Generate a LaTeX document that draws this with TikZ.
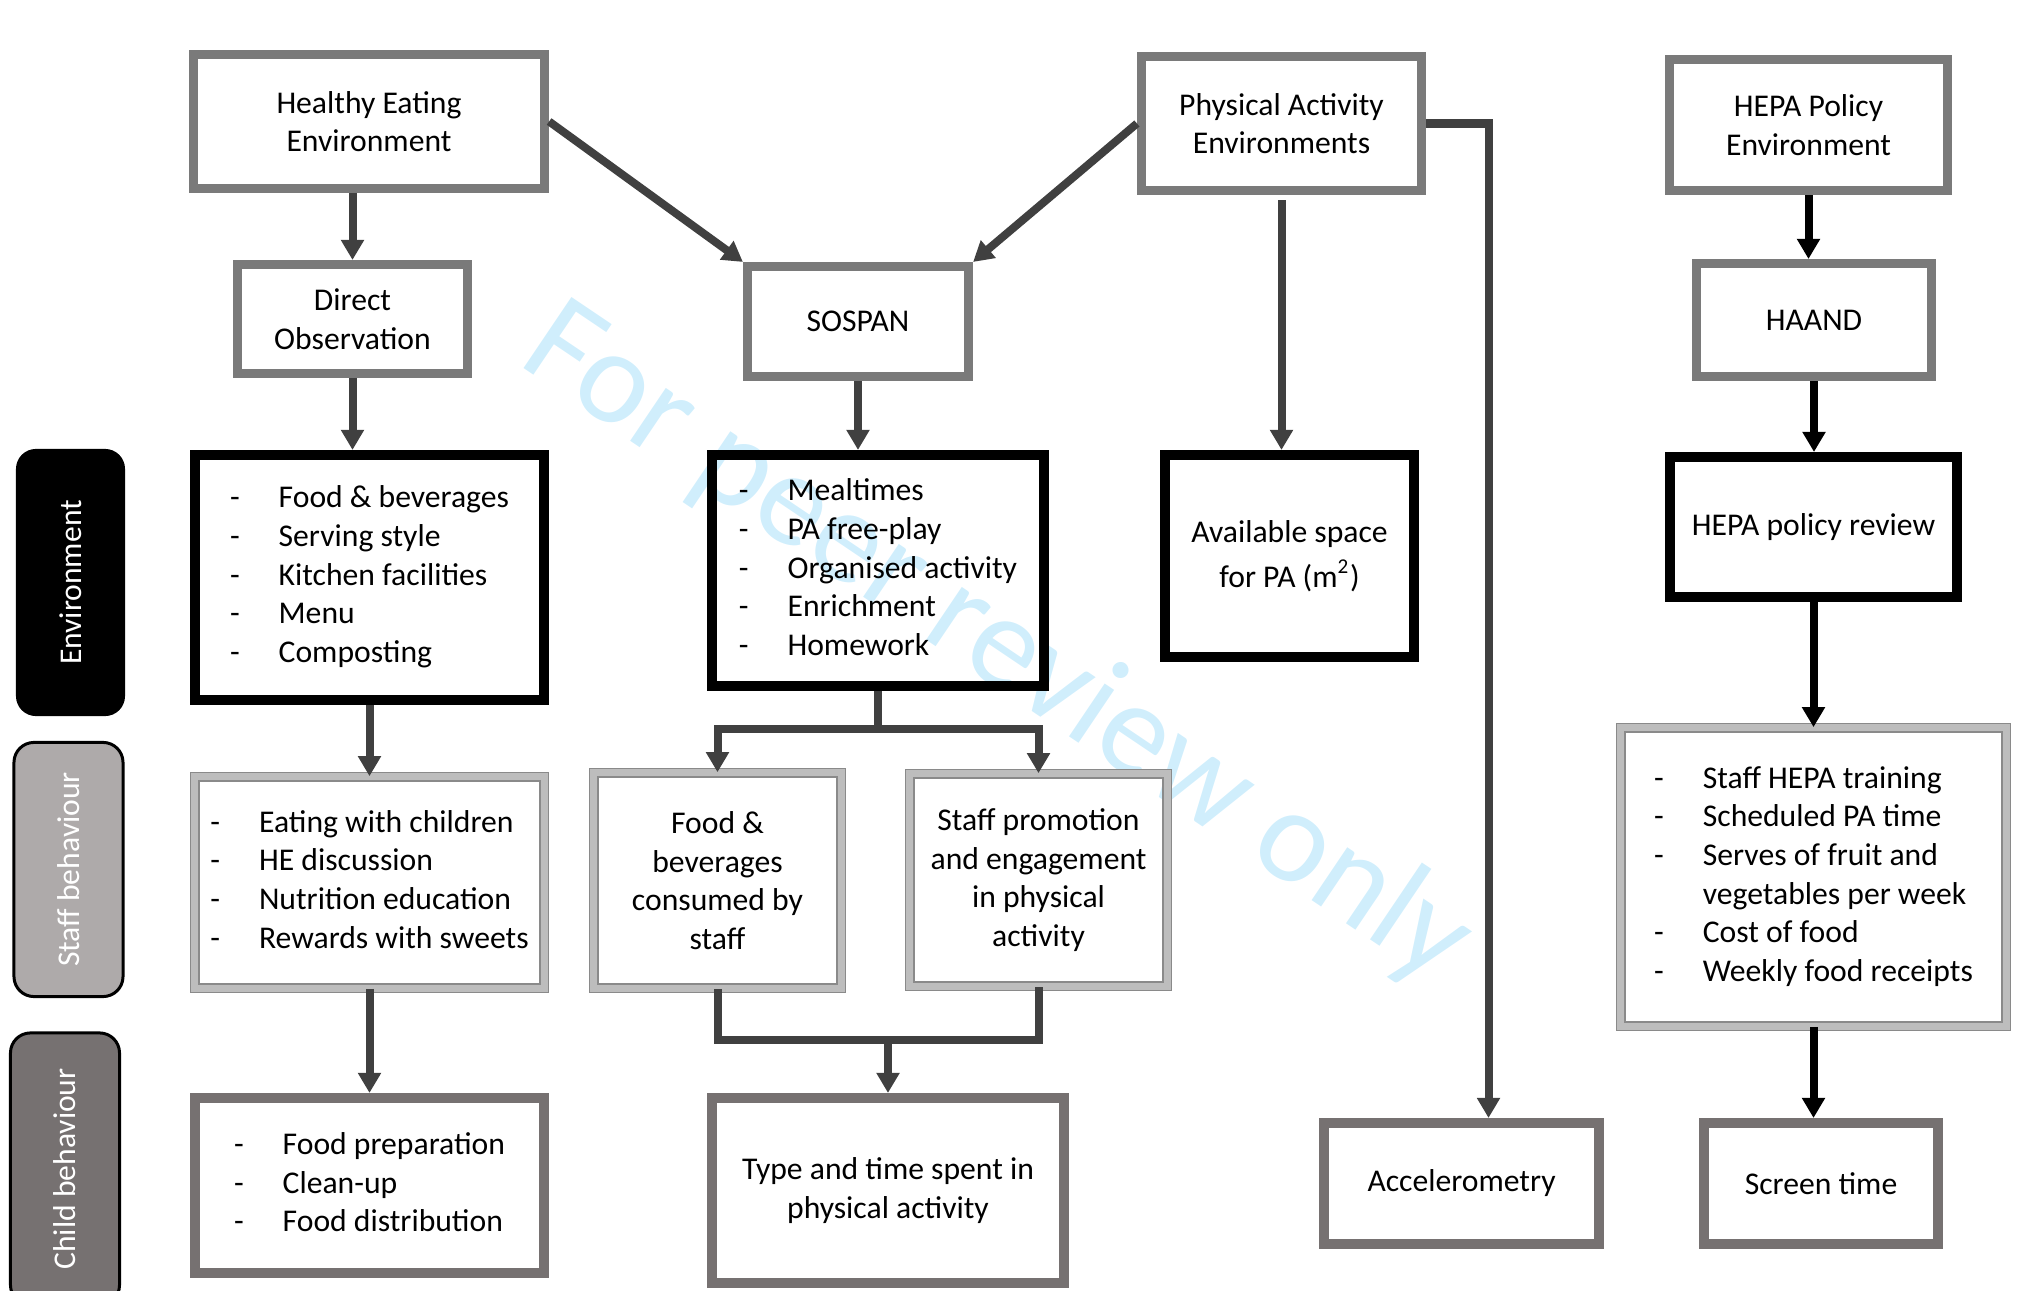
\documentclass[tikz,border=0pt]{standalone}
\usepackage{fontspec}
\setmainfont{Carlito}
\usetikzlibrary{arrows.meta}
\definecolor{hdrgrey}{HTML}{7A7A7A}
\definecolor{bandgrey}{HTML}{BDBDBD}
\definecolor{edgegrey}{HTML}{8A8A8A}
\definecolor{childgrey}{HTML}{767171}
\definecolor{staffgrey}{HTML}{AEAAAA}
\definecolor{arrowgrey}{HTML}{404040}
\definecolor{wmblue}{RGB}{208,238,252}
\newcommand{\dashes}[1]{\begin{tabular}{@{}l@{\hspace{0.39cm}}l@{}}#1\end{tabular}}
\tikzset{
	box/.style={inner sep=0pt, align=center, font=\fontsize{9}{11}\selectfont},
	hdrbox/.style={box, draw=hdrgrey, line width=0.09cm},
	envbox/.style={box, draw=black, line width=0.1cm},
	staffbox/.style={box, draw=edgegrey, double=bandgrey, line width=0.015cm, double distance=0.07cm},
	childbox/.style={box, draw=childgrey, line width=0.1cm},
	side/.style={box, rotate=90, rounded corners=0.2cm, text=white, minimum height=1.09cm},
	conn/.style={draw=arrowgrey, line width=0.08cm},
	arr/.style={conn, -{Triangle[width=0.22cm,length=0.2cm]}},
	blackarr/.style={arr, draw=black},
	watermark/.style={text=wmblue, rotate=-34, font=\fontsize{38}{40}\selectfont}
}
\begin{document}
\begin{tikzpicture}[x=0.01cm, y=-0.01cm]
			\useasboundingbox (0,0) rectangle (2024,1291);
			\node[watermark] (wm) at (997,645) {For peer review only};
			\node[side, fill=black, minimum width=2.67cm] (envL) at (70.5,582.5) {Environment};
			\node[side, fill=staffgrey, draw=black, line width=0.03cm, minimum width=2.54cm] (staffL) at (68.5,869.5) {Staff behaviour};
			\node[side, fill=childgrey, draw=black, line width=0.03cm, minimum width=2.72cm] (childL) at (65,1169) {Child behaviour};
			\node[hdrbox, minimum width=3.51cm, minimum height=1.34cm] (HEenv) at (369,121.5) {Healthy Eating\\Environment};
			\node[hdrbox, minimum width=2.30cm, minimum height=1.09cm] (DirObs) at (352.5,319) {Direct\\Observation};
			\node[hdrbox, minimum width=2.21cm, minimum height=1.10cm] (SOSPAN) at (858,321.5) {SOSPAN};
			\node[hdrbox, minimum width=2.80cm, minimum height=1.34cm] (PAenv) at (1281.5,123.5) {Physical Activity\\Environments};
			\node[hdrbox, minimum width=2.78cm, minimum height=1.31cm] (HEPAenv) at (1808.5,125) {HEPA Policy\\Environment};
			\node[hdrbox, minimum width=2.35cm, minimum height=1.13cm] (HAAND) at (1814,320) {HAAND};
			\node[envbox, minimum width=3.49cm, minimum height=2.45cm] (HElist) at (369.5,577.5) {\dashes{- & Food \& beverages\\ - & Serving style\\ - & Kitchen facilities\\ - & Menu\\ - & Composting}};
			\node[envbox, minimum width=3.32cm, minimum height=2.31cm] (PAlist) at (878,570.5) {\dashes{- & Mealtimes\\ - & PA free-play\\ - & Organised activity\\ - & Enrichment\\ - & Homework}};
			\node[envbox, minimum width=2.49cm, minimum height=2.02cm] (space) at (1289.5,556) {Available space\\[0.06cm]for PA (m\textsuperscript{2})};
			\node[envbox, minimum width=2.87cm, minimum height=1.40cm] (review) at (1813.5,527) {HEPA policy review};
			\node[staffbox, minimum width=3.49cm, minimum height=2.11cm] (eating) at (369.5,882.5) {\dashes{- & Eating with children\\ - & HE discussion\\ - & Nutrition education\\ - & Rewards with sweets}};
			\node[staffbox, minimum width=2.47cm, minimum height=2.15cm] (FBstaff) at (717.5,880.5) {Food \&\\beverages\\consumed by\\staff};
			\node[staffbox, minimum width=2.57cm, minimum height=2.12cm] (promo) at (1038.5,880) {Staff promotion\\and engagement\\in physical\\activity};
			\node[staffbox, minimum width=3.85cm, minimum height=2.98cm] (HEPAlist) at (1813.5,877) {\dashes{- & Staff HEPA training\\ - & Scheduled PA time\\ - & Serves of fruit and\\ & vegetables per week\\ - & Cost of food\\ - & Weekly food receipts}};
			\node[childbox, minimum width=3.49cm, minimum height=1.75cm] (foodprep) at (369.5,1185.5) {\dashes{- & Food preparation\\ - & Clean-up\\ - & Food distribution}};
			\node[childbox, minimum width=3.52cm, minimum height=1.85cm] (typetime) at (888,1190.5) {Type and time spent in\\physical activity};
			\node[childbox, minimum width=2.75cm, minimum height=1.21cm] (accel) at (1461.5,1183.5) {Accelerometry};
			\node[childbox, minimum width=2.34cm, minimum height=1.21cm] (screen) at (1821,1183.5) {Screen time};
			\draw[arr] (DirObs.north |- HEenv.south) -- (DirObs.north);
			\draw[arr] (HEenv.east) -- (SOSPAN.north west);
			\draw[arr] (PAenv.west) -- (SOSPAN.north east);
			\draw[arr] (DirObs.south) -- (DirObs.south |- HElist.north);
			\draw[arr] (SOSPAN.south) -- (SOSPAN.south |- PAlist.north);
			\draw[arr] ([yshift=-0.05cm]PAenv.south) -- (PAenv.south |- space.north);
			\draw[arr] (PAenv.east) -| ([xshift=0.27cm]accel.north);
			\draw[blackarr] (HEPAenv.south) -- (HEPAenv.south |- HAAND.north);
			\draw[blackarr] (HAAND.south) -- (HAAND.south |- review.north);
			\draw[blackarr] (review.south) -- (review.south |- HEPAlist.north);
			\draw[blackarr] (HEPAlist.south) -- (HEPAlist.south |- screen.north);
			\draw[arr] (HElist.south) -- (eating.north);
			\draw[arr] (eating.south) -- (foodprep.north);
			\coordinate (split) at ([yshift=-0.38cm]PAlist.south);
			\draw[conn] (PAlist.south) -- (split);
			\draw[arr] (split) -| (FBstaff.north);
			\draw[arr] (split) -| (promo.north);
			\coordinate (merge) at ([yshift=0.53cm]typetime.north);
			\draw[conn] (FBstaff.south) |- (merge) -| (promo.south);
			\draw[arr] (merge) -- (typetime.north);
		\end{tikzpicture}
\end{document}
